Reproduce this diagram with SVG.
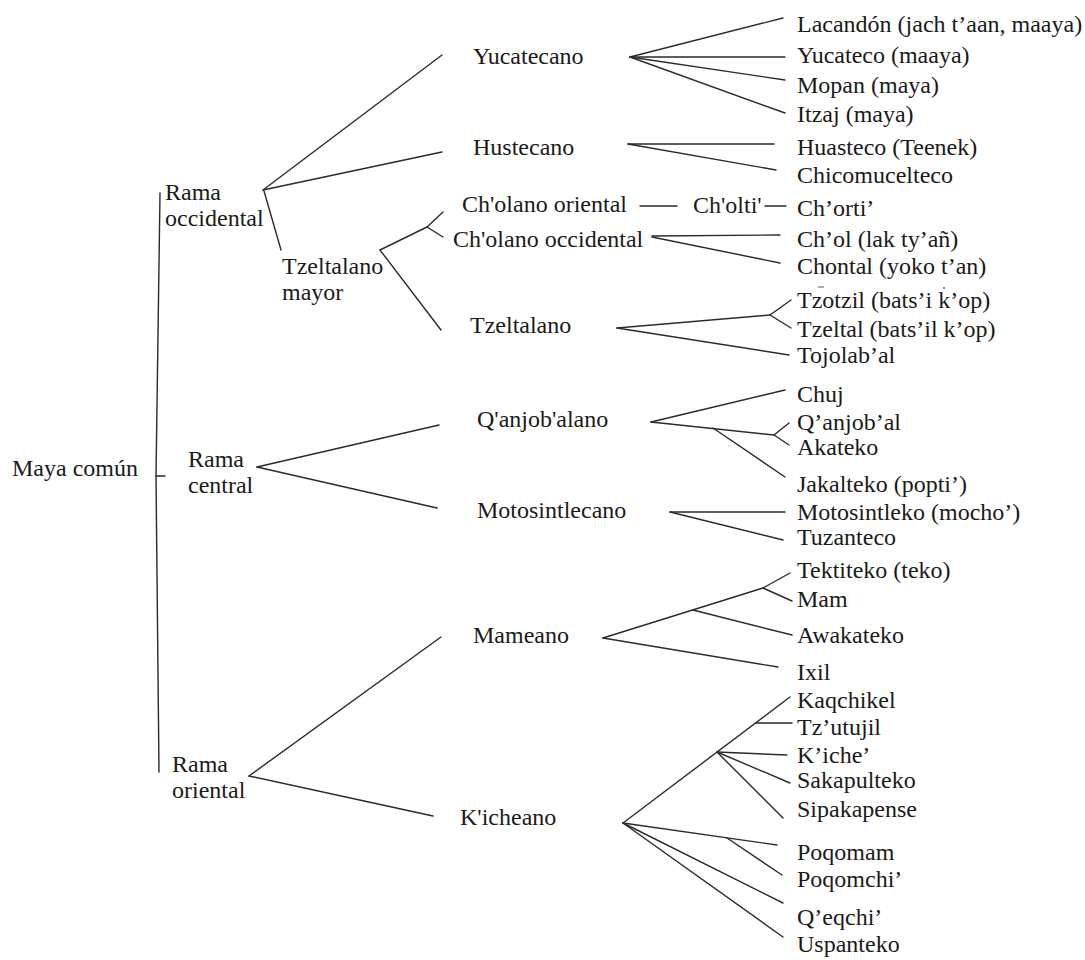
<svg xmlns="http://www.w3.org/2000/svg" width="1085" height="960" viewBox="0 0 1085 960">
<style>
text{font-family:"Liberation Serif","Times New Roman",serif;font-size:24px;fill:#1a1a1a}
.c line,.c polyline{stroke:#2a2a2a;stroke-width:1.4;fill:none;stroke-linecap:round;stroke-linejoin:round}
.mark{stroke:#555;stroke-width:1;fill:none}
</style>
<rect width="1085" height="960" fill="#fff"/>
<g class="c" id="connectors">
<polyline points="160,193 156,476 159,772"/>
<line x1="156" y1="476" x2="165" y2="476"/>
<line x1="263" y1="190" x2="442" y2="55"/>
<line x1="263" y1="190" x2="442" y2="152"/>
<line x1="264" y1="191" x2="281" y2="250"/>
<polyline points="380,250 427,227 443,212"/>
<line x1="427" y1="227" x2="443" y2="237"/>
<line x1="380" y1="250" x2="441" y2="330"/>
<line x1="630" y1="57" x2="783" y2="18"/>
<line x1="630" y1="57" x2="785" y2="57"/>
<line x1="630" y1="57" x2="785" y2="80"/>
<line x1="630" y1="57" x2="785" y2="113"/>
<line x1="628" y1="144" x2="774" y2="144"/>
<line x1="628" y1="144" x2="776" y2="170"/>
<line x1="640" y1="206" x2="677" y2="206"/>
<line x1="765" y1="206" x2="786" y2="206"/>
<line x1="652" y1="236" x2="780" y2="235"/>
<line x1="652" y1="237" x2="780" y2="263"/>
<polyline points="617,328 770,315 791,300"/>
<line x1="770" y1="315" x2="791" y2="328"/>
<line x1="617" y1="328" x2="789" y2="355"/>
<line x1="257" y1="467" x2="439" y2="425"/>
<line x1="257" y1="467" x2="437" y2="508"/>
<polyline points="651,422 774,435 789,423"/>
<line x1="774" y1="435" x2="789" y2="445"/>
<line x1="651" y1="422" x2="785" y2="390"/>
<line x1="713" y1="428" x2="785" y2="477"/>
<line x1="670" y1="512" x2="785" y2="512"/>
<line x1="670" y1="512" x2="783" y2="540"/>
<line x1="249" y1="776" x2="441" y2="637"/>
<line x1="249" y1="776" x2="433" y2="816"/>
<polyline points="603,638 763,588 790,573"/>
<line x1="763" y1="588" x2="792" y2="601"/>
<line x1="693" y1="610" x2="792" y2="635"/>
<line x1="603" y1="638" x2="778" y2="667"/>
<line x1="623" y1="823" x2="790" y2="697"/>
<line x1="756" y1="723" x2="792" y2="723"/>
<line x1="717" y1="752" x2="787" y2="755"/>
<line x1="717" y1="752" x2="790" y2="783"/>
<line x1="717" y1="752" x2="783" y2="818"/>
<line x1="623" y1="823" x2="777" y2="845"/>
<line x1="727" y1="838" x2="782" y2="875"/>
<line x1="623" y1="823" x2="783" y2="903"/>
<line x1="623" y1="823" x2="783" y2="937"/>
</g>
<g id="n-maya"><text x="12" y="476">Maya común</text></g>
<g id="n-occidental"><text x="165" y="200">Rama</text><text x="165" y="226">occidental</text></g>
<g id="n-central"><text x="188" y="467">Rama</text><text x="188" y="493">central</text></g>
<g id="n-oriental"><text x="172" y="772">Rama</text><text x="172" y="798">oriental</text></g>
<g id="n-tzeltalano-mayor"><text x="282" y="274">Tzeltalano</text><text x="282" y="300">mayor</text></g>
<g id="n-yucatecano"><text x="473" y="64">Yucatecano</text></g>
<g id="n-hustecano"><text x="473" y="155">Hustecano</text></g>
<g id="n-cholano-oriental"><text x="462" y="212">Ch'olano oriental</text></g>
<g id="n-cholano-occidental"><text x="453" y="247">Ch'olano occidental</text></g>
<g id="n-cholti"><text x="693" y="213">Ch'olti'</text></g>
<g id="n-tzeltalano"><text x="470" y="333">Tzeltalano</text></g>
<g id="n-qanjobalano"><text x="477" y="427">Q'anjob'alano</text></g>
<g id="n-motosintlecano"><text x="477" y="518">Motosintlecano</text></g>
<g id="n-mameano"><text x="473" y="643">Mameano</text></g>
<g id="n-kicheano"><text x="460" y="825">K'icheano</text></g>
<g id="leaves">
<g id="l-lacandon"><text x="797" y="32">Lacandón (jach t’aan, maaya)</text></g>
<g id="l-yucateco"><text x="797" y="63">Yucateco (maaya)</text></g>
<g id="l-mopan"><text x="797" y="93">Mopan (maya)</text></g>
<g id="l-itzaj"><text x="797" y="122">Itzaj (maya)</text></g>
<g id="l-huasteco"><text x="797" y="155">Huasteco (Teenek)</text></g>
<g id="l-chicomucelteco"><text x="797" y="183">Chicomucelteco</text></g>
<g id="l-chorti"><text x="797" y="216">Ch’orti’</text></g>
<g id="l-chol"><text x="797" y="247">Ch’ol (lak ty’añ)</text></g>
<g id="l-chontal"><text x="797" y="274">Chontal (yoko t’an)</text></g>
<g id="l-tzotzil"><text x="797" y="308">Tzotzil (bats’i k’op)</text><line class="mark" x1="818" y1="287" x2="824" y2="287"/><circle cx="944" cy="288" r="0.9" fill="#555"/></g>
<g id="l-tzeltal"><text x="797" y="337">Tzeltal (bats’il k’op)</text></g>
<g id="l-tojolabal"><text x="797" y="363">Tojolab’al</text></g>
<g id="l-chuj"><text x="797" y="402">Chuj</text></g>
<g id="l-qanjobal"><text x="797" y="430">Q’anjob’al</text></g>
<g id="l-akateko"><text x="797" y="455">Akateko</text></g>
<g id="l-jakalteko"><text x="797" y="492">Jakalteko (popti’)</text></g>
<g id="l-motosintleko"><text x="797" y="520">Motosintleko (mocho’)</text></g>
<g id="l-tuzanteco"><text x="797" y="545">Tuzanteco</text></g>
<g id="l-tektiteko"><text x="797" y="578">Tektiteko (teko)</text></g>
<g id="l-mam"><text x="797" y="607">Mam</text></g>
<g id="l-awakateko"><text x="797" y="643">Awakateko</text></g>
<g id="l-ixil"><text x="797" y="680">Ixil</text></g>
<g id="l-kaqchikel"><text x="797" y="708">Kaqchikel</text></g>
<g id="l-tzutujil"><text x="797" y="735">Tz’utujil</text></g>
<g id="l-kiche"><text x="797" y="763">K’iche’</text></g>
<g id="l-sakapulteko"><text x="797" y="788">Sakapulteko</text></g>
<g id="l-sipakapense"><text x="797" y="817">Sipakapense</text></g>
<g id="l-poqomam"><text x="797" y="860">Poqomam</text></g>
<g id="l-poqomchi"><text x="797" y="887">Poqomchi’</text></g>
<g id="l-qeqchi"><text x="797" y="925">Q’eqchi’</text></g>
<g id="l-uspanteko"><text x="797" y="952">Uspanteko</text></g>
</g>
</svg>
